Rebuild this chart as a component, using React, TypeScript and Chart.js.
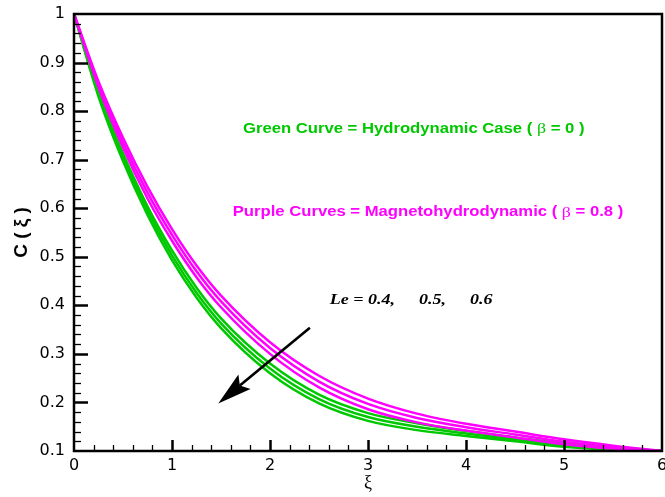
import React, { useEffect, useRef } from 'react';
import { Chart, registerables } from 'chart.js';

Chart.register(...registerables);

// ---- data ----
const xi = [0, 0.25, 0.5, 0.75, 1, 1.25, 1.5, 2, 2.5, 3, 3.5, 4, 4.5, 5, 5.5, 6];

// Green = hydrodynamic case (beta = 0), Le = 0.4, 0.5, 0.6
const greenLe04 = [1, 0.840, 0.713, 0.604, 0.513, 0.436, 0.373, 0.280, 0.216, 0.178, 0.157, 0.141, 0.128, 0.115, 0.107, 0.1];
const greenLe05 = [1, 0.835, 0.705, 0.595, 0.503, 0.426, 0.363, 0.270, 0.207, 0.170, 0.150, 0.136, 0.124, 0.112, 0.105, 0.1];
const greenLe06 = [1, 0.830, 0.697, 0.586, 0.493, 0.416, 0.353, 0.260, 0.198, 0.162, 0.143, 0.131, 0.120, 0.109, 0.103, 0.1];

// Purple = magnetohydrodynamic (beta = 0.8), Le = 0.4, 0.5, 0.6
const purpleLe04 = [1, 0.861, 0.745, 0.644, 0.557, 0.482, 0.420, 0.324, 0.255, 0.208, 0.177, 0.156, 0.140, 0.124, 0.111, 0.1];
const purpleLe05 = [1, 0.855, 0.735, 0.632, 0.545, 0.470, 0.408, 0.312, 0.243, 0.197, 0.168, 0.149, 0.134, 0.119, 0.108, 0.1];
const purpleLe06 = [1, 0.849, 0.725, 0.620, 0.533, 0.458, 0.396, 0.300, 0.231, 0.186, 0.159, 0.142, 0.128, 0.114, 0.105, 0.1];

const xTickValues = [0, 1, 2, 3, 4, 5, 6];
const yTickValues = [0.1, 0.2, 0.3, 0.4, 0.5, 0.6, 0.7, 0.8, 0.9, 1];

const greenLabel = ['Green Curve = Hydrodynamic Case ( ', 'β', ' = 0 )'];
const purpleLabel = ['Purple Curves = Magnetohydrodynamic ( ', 'β', ' = 0.8 )'];
const leLabelParts = ['Le = 0.4,', '0.5,', '0.6'];

const GREEN = '#00C800';
const MAGENTA = '#FF00FF';

const toPts = (ys: number[]) => ys.map((y, i) => ({ x: xi[i], y }));

function drawRuns(ctx: CanvasRenderingContext2D, x: number, y: number, runs: { text: string; font: string; gap?: number }[], color: string, sx: number) {
  ctx.save();
  ctx.translate(x, y);
  ctx.scale(sx, 1);
  ctx.fillStyle = color;
  ctx.textBaseline = 'middle';
  ctx.textAlign = 'left';
  let cx = 0;
  for (const r of runs) {
    cx += r.gap || 0;
    ctx.font = r.font;
    ctx.fillText(r.text, cx, 0);
    cx += ctx.measureText(r.text).width;
  }
  ctx.restore();
}

const decorPlugin = {
  id: 'decor',
  afterDatasetsDraw(chart: any) {
    const { ctx, chartArea } = chart;
    const xs = chart.scales.x;
    const ys = chart.scales.y;
    const { left, right, top, bottom } = chartArea;
    ctx.save();
    ctx.strokeStyle = '#000';
    ctx.lineCap = 'butt';

    // inward ticks on x axis
    for (let i = 1; i < 30; i++) {
      const v = i / 5;
      const px = Math.round(xs.getPixelForValue(v)) + 0.5;
      const major = i % 5 === 0;
      ctx.lineWidth = major ? 2.5 : 1.3;
      ctx.beginPath();
      ctx.moveTo(px, bottom);
      ctx.lineTo(px, bottom - (major ? 11 : 6));
      ctx.stroke();
    }
    // inward ticks on y axis
    for (let i = 1; i < 45; i++) {
      const v = 0.1 + i * 0.02;
      const py = Math.round(ys.getPixelForValue(v)) + 0.5;
      const major = i % 5 === 0;
      ctx.lineWidth = major ? 2.5 : 1.3;
      ctx.beginPath();
      ctx.moveTo(left, py);
      ctx.lineTo(left + (major ? 14 : 7), py);
      ctx.stroke();
    }
    // frame
    ctx.lineWidth = 2.5;
    ctx.strokeRect(left, top, right - left, bottom - top);

    // arrow
    const x0 = xs.getPixelForValue(2.407), y0 = ys.getPixelForValue(0.354);
    const x1 = xs.getPixelForValue(1.472), y1 = ys.getPixelForValue(0.198);
    const ang = Math.atan2(y1 - y0, x1 - x0);
    const hl = 34, hw = 9.5, notch = 28;
    ctx.lineWidth = 2.6;
    ctx.beginPath();
    ctx.moveTo(x0, y0);
    ctx.lineTo(x1 - Math.cos(ang) * notch, y1 - Math.sin(ang) * notch);
    ctx.stroke();
    ctx.fillStyle = '#000';
    ctx.beginPath();
    ctx.moveTo(x1, y1);
    const bx = x1 - Math.cos(ang) * hl, by = y1 - Math.sin(ang) * hl;
    ctx.lineTo(bx + Math.sin(ang) * hw, by - Math.cos(ang) * hw);
    ctx.lineTo(x1 - Math.cos(ang) * notch, y1 - Math.sin(ang) * notch);
    ctx.lineTo(bx - Math.sin(ang) * hw, by + Math.cos(ang) * hw);
    ctx.closePath();
    ctx.fill();

    // annotation texts
    const sansB = 'bold 14px "Liberation Sans", Arial, sans-serif';
    const serif = '15px "Liberation Serif", "Times New Roman", serif';
    drawRuns(ctx, xs.getPixelForValue(1.724), ys.getPixelForValue(0.763),
      [{ text: greenLabel[0], font: sansB }, { text: greenLabel[1], font: serif }, { text: greenLabel[2], font: sansB }], GREEN, 1.19);
    drawRuns(ctx, xs.getPixelForValue(1.62), ys.getPixelForValue(0.591),
      [{ text: purpleLabel[0], font: sansB }, { text: purpleLabel[1], font: serif }, { text: purpleLabel[2], font: sansB }], MAGENTA, 1.19);
    const leFont = 'italic bold 15px "Liberation Serif", "Times New Roman", serif';
    drawRuns(ctx, xs.getPixelForValue(2.61), ys.getPixelForValue(0.411),
      [{ text: leLabelParts[0], font: leFont }, { text: leLabelParts[1], font: leFont, gap: 20 }, { text: leLabelParts[2], font: leFont, gap: 20 }], '#000', 1.2);

    ctx.restore();
  },
};

export default function App() {
  const ref = useRef<HTMLCanvasElement | null>(null);

  useEffect(() => {
    if (!ref.current) return;
    const line = (data: number[], color: string) => ({
      data: toPts(data),
      borderColor: color,
      backgroundColor: color,
      borderWidth: 2.5,
      pointRadius: 0,
      fill: false,
      cubicInterpolationMode: 'monotone' as const,
    });
    const chart = new Chart(ref.current, {
      type: 'line',
      data: {
        datasets: [
          line(purpleLe04, MAGENTA),
          line(purpleLe05, MAGENTA),
          line(purpleLe06, MAGENTA),
          line(greenLe04, GREEN),
          line(greenLe05, GREEN),
          line(greenLe06, GREEN),
        ],
      },
      options: {
        responsive: false,
        animation: false,
        devicePixelRatio: 1,
        layout: { padding: { top: 14, right: 3, left: 0, bottom: 0 } },
        plugins: { legend: { display: false }, tooltip: { enabled: false } },
        scales: {
          x: {
            type: 'linear',
            min: 0,
            max: 6,
            afterBuildTicks: (s: any) => { s.ticks = xTickValues.map((v) => ({ value: v })); },
            afterFit: (s: any) => { s.height = 46; s.paddingLeft = 0; s.paddingRight = 0; },
            ticks: {
              padding: 5,
              autoSkip: false,
              maxRotation: 0,
              color: '#000',
              font: { family: '"DejaVu Sans", sans-serif', size: 16 },
              callback: (v: any) => String(v),
            },
            grid: { display: false, drawTicks: false },
            border: { display: false },
            title: {
              display: true,
              text: 'ξ',
              color: '#000',
              font: { family: '"Liberation Serif", serif', size: 18 },
              padding: { top: 0, bottom: 3 },
            },
          },
          y: {
            type: 'linear',
            min: 0.1,
            max: 1,
            afterBuildTicks: (s: any) => { s.ticks = yTickValues.map((v) => ({ value: v })); },
            afterFit: (s: any) => { s.width = 74; s.paddingTop = 0; s.paddingBottom = 0; },
            ticks: {
              padding: 9,
              autoSkip: false,
              color: '#000',
              font: { family: '"DejaVu Sans", sans-serif', size: 16 },
              callback: (v: any) => String(Number(Number(v).toFixed(1))),
            },
            grid: { display: false, drawTicks: false },
            border: { display: false },
            title: {
              display: true,
              text: 'C ( ξ )',
              color: '#000',
              font: { family: '"Liberation Sans", Arial, sans-serif', size: 19, weight: 'bold' },
              padding: { top: 10, bottom: 0 },
            },
          },
        },
      },
      plugins: [decorPlugin],
    });
    return () => chart.destroy();
  }, []);

  return (
    <div style={{ position: 'absolute', left: 0, top: 0, width: 665, height: 497, background: '#fff' }}>
      <canvas ref={ref} width={665} height={497} style={{ display: 'block' }} />
    </div>
  );
}
